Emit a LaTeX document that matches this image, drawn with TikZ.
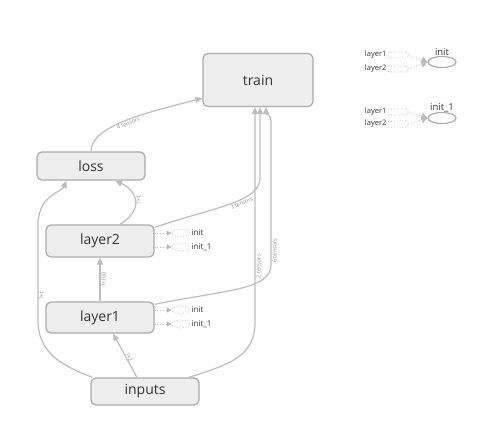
\documentclass[tikz,border=0pt]{standalone}
\usepackage{fontspec}
\setmainfont{Open Sans}
\usetikzlibrary{arrows.meta,calc,shapes.geometric}
\definecolor{boxfill}{HTML}{EEEEEE}
\definecolor{boxline}{HTML}{ABABAB}
\definecolor{edgecol}{HTML}{BDBDBD}
\definecolor{txtcol}{HTML}{333333}
\definecolor{lblcol}{HTML}{8C8C8C}
\begin{document}
\begin{tikzpicture}[x=1pt,y=-1pt,
  opnode/.style={draw=boxline,fill=boxfill,line width=1.3pt,rounded corners=5pt,inner sep=0pt,text=txtcol,font=\fontsize{14}{14}\selectfont},
  flow/.style={draw=edgecol,line width=1.2pt,-{Triangle[width=6pt,length=7pt]}},
  elabel/.style={font=\fontsize{5.5}{5.5}\selectfont,text=lblcol,inner sep=1pt},
  ctrl/.style={draw=edgecol,line width=0.8pt,dotted,-{Triangle[width=5pt,length=5pt]}},
  legctrl/.style={draw=edgecol,line width=0.8pt,dotted,-{Triangle[width=7pt,length=6pt]}},
  smallell/.style={ellipse,draw=edgecol,dotted,line width=0.8pt,minimum width=18pt,minimum height=8pt,inner sep=0pt},
  initlbl/.style={font=\fontsize{8}{8}\selectfont,text=txtcol,inner sep=1pt},
  legell/.style={ellipse,draw=boxline,line width=1.2pt,minimum width=28pt,minimum height=11pt,inner sep=0pt},
  legrect/.style={rectangle,rounded corners=2pt,draw=edgecol,dotted,line width=0.8pt,minimum width=20pt,minimum height=6pt,inner sep=0pt},
  legtitle/.style={font=\fontsize{9.5}{9.5}\selectfont,text=txtcol,inner sep=0pt},
  leglbl/.style={font=\fontsize{7.5}{7.5}\selectfont,text=txtcol,inner sep=1pt}
]
\fill[white] (0,0) rectangle (488,438);
\useasboundingbox (0,0) rectangle (488,438);

% main nodes
\node[opnode,minimum width=110pt,minimum height=53pt] (train) at (258,80) {train};
\node[opnode,minimum width=108pt,minimum height=28pt] (loss) at (91,166) {loss};
\node[opnode,minimum width=108pt,minimum height=32pt] (layer2) at (100,241) {layer2};
\node[opnode,minimum width=108pt,minimum height=31pt] (layer1) at (100,317.5) {layer1};
\node[opnode,minimum width=108pt,minimum height=27pt] (inputs) at (145,391.5) {inputs};

% control-dependency stubs
\node[smallell,label={[initlbl]right:init}] (i2a) at (181,233) {};
\node[smallell,label={[initlbl]right:init\_1}] (i2b) at (181,247) {};
\node[smallell,label={[initlbl]right:init}] (i1a) at (181,310) {};
\node[smallell,label={[initlbl]right:init\_1}] (i1b) at (181,324) {};
\draw[ctrl] (layer2.east |- i2a) -- (i2a.west);
\draw[ctrl] (layer2.east |- i2b) -- (i2b.west);
\draw[ctrl] (layer1.east |- i1a) -- (i1a.west);
\draw[ctrl] (layer1.east |- i1b) -- (i1b.west);

% legend-like init nodes
\node[legell,label={[legtitle]above:init}] (initA) at (442,62) {};
\node[legrect,label={[leglbl]left:layer1}] (la1) at (398,55) {};
\node[legrect,label={[leglbl]left:layer2}] (la2) at (398,69) {};
\draw[legctrl] (la1.east) -- (initA.west);
\draw[legctrl] (la2.east) -- (initA.west);

\node[legell,label={[legtitle]above:init\_1}] (initB) at (442,118) {};
\node[legrect,label={[leglbl]left:layer1}] (lb1) at (398,112) {};
\node[legrect,label={[leglbl]left:layer2}] (lb2) at (398,124) {};
\draw[legctrl] (lb1.east) -- (initB.west);
\draw[legctrl] (lb2.east) -- (initB.west);

% data-flow edges
\draw[flow] (loss.north) .. controls (91,125) and (150,112) .. ($(train.south west)+(0,-9)$)
  node[elabel,pos=0.5,sloped,below] {4 tensors};

\draw[flow] ($(layer2.north east)+(0,3)$) .. controls (215,207) and (260,202) .. (260,178)
  node[elabel,pos=0.6,sloped,below] {3 tensors}
  -- ($(train.south)+(2,0)$);

\draw[flow] ($(layer1.north east)+(0,3)$) .. controls (225,290) and (271,290) .. (271,265)
  -- (271,122)
  node[elabel,pos=0.1,rotate=90,anchor=north] {6 tensors}
  .. controls (271,114) and (266,114) .. ($(train.south)+(8,0)$);

\draw[flow] ($(inputs.north east)+(-11,0)$) .. controls (232,364) and (255,355) .. (255,322)
  -- ($(train.south)+(-3,0)$)
  node[elabel,pos=0.26,rotate=90,anchor=north] {2 tensors};

\draw[flow] ($(inputs.north west)+(2,0)$) .. controls (60,365) and (38,352) .. (38,320)
  -- (38,225)
  node[elabel,pos=0.26,rotate=90,anchor=north] {?×1}
  .. controls (38,195) and (62,192) .. ($(loss.south west)+(30,0)$);

\draw[flow] ($(layer2.north)+(20,0)$) .. controls (150,205) and (130,187) .. ($(loss.south)+(24,0)$)
  node[elabel,pos=0.45,rotate=90,anchor=north] {?×1};

\draw[flow] (layer1.north) -- (layer2.south)
  node[elabel,pos=0.5,rotate=90,anchor=north] {?×100};

\draw[flow] ($(inputs.north)+(-8,0)$) -- ($(layer1.south)+(13,0)$)
  node[elabel,pos=0.5,rotate=-62,anchor=south,xshift=4pt,yshift=-1pt] {?×2};
\end{tikzpicture}
\end{document}
